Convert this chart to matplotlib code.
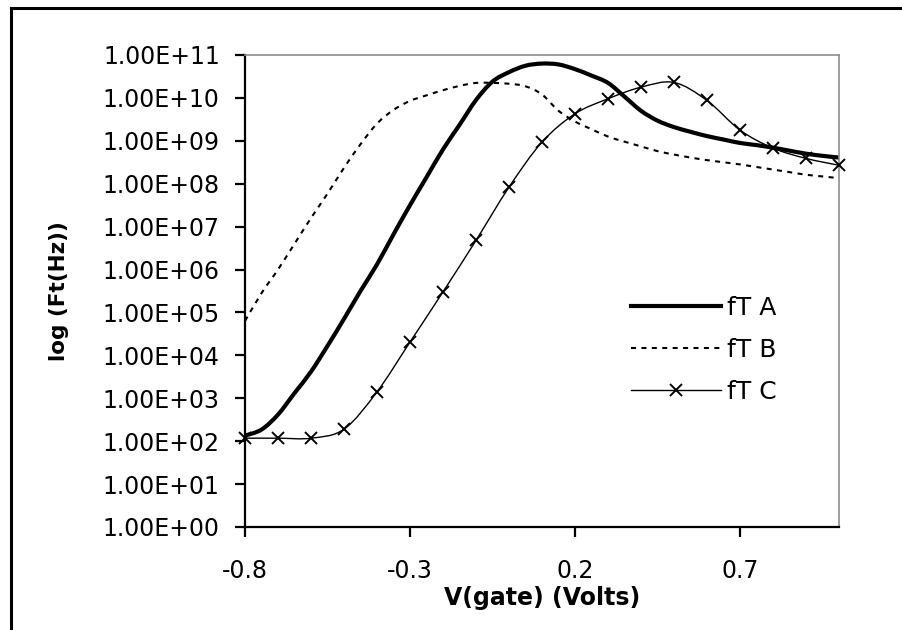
import numpy as np
import matplotlib
matplotlib.use("Agg")
import matplotlib.pyplot as plt
from matplotlib.path import Path
from matplotlib.patches import PathPatch
from matplotlib.lines import Line2D
from matplotlib.ticker import FixedLocator, FixedFormatter, NullLocator

# ---------------- data ----------------
v_ab = [-0.80, -0.75, -0.70, -0.65, -0.60, -0.55, -0.50, -0.45, -0.40, -0.35,
        -0.30, -0.25, -0.20, -0.15, -0.10, -0.05, 0.00, 0.05, 0.10, 0.15,
        0.20, 0.25, 0.30, 0.35, 0.40, 0.45, 0.50, 0.55, 0.60, 0.65,
        0.70, 0.75, 0.80, 0.85, 0.90, 0.95, 1.00]
# log10 of fT (Hz)
fta_log = [2.13, 2.27, 2.62, 3.12, 3.62, 4.22, 4.85, 5.50, 6.12, 6.82,
           7.50, 8.15, 8.80, 9.37, 9.95, 10.38, 10.60, 10.75, 10.80, 10.78,
           10.67, 10.52, 10.35, 10.03, 9.70, 9.47, 9.32, 9.21, 9.11, 9.03,
           8.95, 8.90, 8.84, 8.77, 8.70, 8.65, 8.61]
ftb_log = [4.80, 5.45, 6.00, 6.60, 7.20, 7.77, 8.37, 8.92, 9.40, 9.72,
           9.93, 10.06, 10.18, 10.28, 10.35, 10.35, 10.33, 10.27, 10.08, 9.70,
           9.45, 9.27, 9.10, 8.98, 8.87, 8.76, 8.68, 8.61, 8.55, 8.50,
           8.45, 8.39, 8.33, 8.27, 8.21, 8.17, 8.13]
v_c = [-0.8, -0.7, -0.6, -0.5, -0.4, -0.3, -0.2, -0.1, 0.0, 0.1,
       0.2, 0.3, 0.4, 0.5, 0.6, 0.7, 0.8, 0.9, 1.0]
ftc_log = [2.07, 2.07, 2.07, 2.28, 3.15, 4.31, 5.48, 6.68, 7.92, 8.97,
           9.63, 9.98, 10.25, 10.36, 9.94, 9.25, 8.83, 8.59, 8.43]

series_names = ["fT A", "fT B", "fT C"]
x_ticks = [-0.8, -0.3, 0.2, 0.7]
x_tick_labels = ["-0.8", "-0.3", "0.2", "0.7"]
y_exponents = list(range(0, 12))
y_tick_labels = ["1.00E+%02d" % e for e in y_exponents]
x_label = "V(gate) (Volts)"
y_label = "log (Ft(Hz))"

fta = 10.0 ** np.array(fta_log)
ftb = 10.0 ** np.array(ftb_log)
ftc = 10.0 ** np.array(ftc_log)


def smooth_path(x, y):
    """Excel-like smoothed line: Catmull-Rom Bezier in (x, log10 y) space."""
    pts = np.column_stack([np.asarray(x, float), np.log10(np.asarray(y, float))])
    n = len(pts)
    verts = [pts[0]]
    codes = [Path.MOVETO]
    for i in range(n - 1):
        p0 = pts[i - 1] if i > 0 else pts[i]
        p1 = pts[i]
        p2 = pts[i + 1]
        p3 = pts[i + 2] if i + 2 < n else pts[i + 1]
        c1 = p1 + (p2 - p0) / 6.0
        c2 = p2 - (p3 - p1) / 6.0
        verts += [c1, c2, p2]
        codes += [Path.CURVE4] * 3
    verts = np.array(verts)
    verts[:, 1] = 10.0 ** verts[:, 1]
    return Path(verts, codes)


plt.rcParams['font.family'] = ['DejaVu Sans']

W, H = 903, 630
fig = plt.figure(figsize=(W / 100, H / 100), dpi=100)
L, R, T, B = 245, 839, 55, 527
ax = fig.add_axes([L / W, 1 - B / H, (R - L) / W, (B - T) / H])

ax.set_yscale('log')
ax.set_xlim(-0.8, 1.0)
ax.set_ylim(1e0, 1e11)

lw_a, lw_b, lw_c = 3.0, 1.5, 1.0
dash_b = (2.4, 2.6)

ax.add_patch(PathPatch(smooth_path(v_ab, fta), fill=False, lw=lw_a,
                       edgecolor='black', capstyle='round', joinstyle='round'))
pb = PathPatch(smooth_path(v_ab, ftb), fill=False, lw=lw_b, edgecolor='black')
pb.set_linestyle((0, dash_b))
ax.add_patch(pb)
ax.add_patch(PathPatch(smooth_path(v_c, ftc), fill=False, lw=lw_c,
                       edgecolor='black'))
ax.plot(v_c, ftc, linestyle='none', marker='x', markersize=8.5,
        markeredgewidth=1.4, color='black', clip_on=False, zorder=4)

# axes styling
for s in ['top', 'right']:
    ax.spines[s].set_color('#8c8c8c')
    ax.spines[s].set_linewidth(1.2)
for s in ['left', 'bottom']:
    ax.spines[s].set_color('black')
    ax.spines[s].set_linewidth(1.6)

ax.xaxis.set_major_locator(FixedLocator(x_ticks))
ax.xaxis.set_major_formatter(FixedFormatter(x_tick_labels))
ax.xaxis.set_minor_locator(NullLocator())
ax.yaxis.set_major_locator(FixedLocator([10.0 ** e for e in y_exponents]))
ax.yaxis.set_major_formatter(FixedFormatter(y_tick_labels))
ax.yaxis.set_minor_locator(NullLocator())
ax.tick_params(axis='both', which='major', direction='out', length=7.2,
               width=1.6, color='black', labelsize=17)
ax.tick_params(axis='y', pad=11)
ax.tick_params(axis='x', pad=16)

ax.set_xlabel(x_label, fontsize=17, fontweight='bold')
ax.set_ylabel(y_label, fontsize=15.5, fontweight='bold')
ax.xaxis.set_label_coords(0.5, (B - 598) / (B - T))
ax.xaxis.label.set_va('center')
ax.yaxis.set_label_coords((59 - L) / (R - L), 0.5)
ax.yaxis.label.set_va('center')

handles = [
    Line2D([], [], color='black', lw=lw_a),
    Line2D([], [], color='black', lw=lw_b, linestyle=(0, dash_b)),
    Line2D([], [], color='black', lw=lw_c, marker='x', markersize=8.5,
           markeredgewidth=1.4),
]
leg = ax.legend(handles, series_names, loc='center left',
                bbox_to_anchor=((631 - L) / (R - L), (B - 350) / (B - T)),
                frameon=False, fontsize=18, handlelength=3.6, handletextpad=0.25,
                labelspacing=0.72, borderaxespad=0, borderpad=0)

# chart-area border (only left and top edges visible in the reference)
fig.add_artist(Line2D([11 / W, 11 / W], [0, 1 - 8 / H], transform=fig.transFigure,
                      color='black', lw=2.2))
fig.add_artist(Line2D([11 / W, 1], [1 - 8 / H, 1 - 8 / H], transform=fig.transFigure,
                      color='black', lw=2.2))

fig.savefig('out.png', dpi=100)
